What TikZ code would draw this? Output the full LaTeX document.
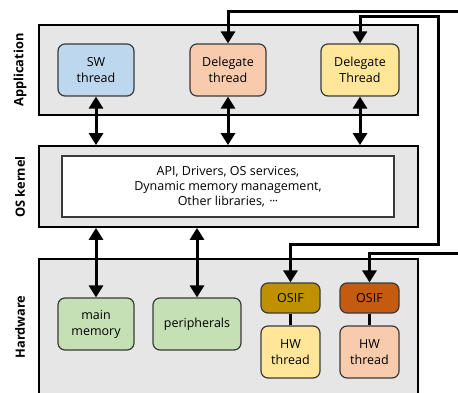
\documentclass[tikz,border=0pt]{standalone}
\usepackage{fontspec}
\setmainfont{Open Sans}
\usetikzlibrary{arrows.meta}

\definecolor{layergray}{HTML}{E7E6E6}
\definecolor{blockline}{HTML}{3A3A3A}
\definecolor{swblue}{HTML}{BDD7EE}
\definecolor{peach}{HTML}{F8CBAD}
\definecolor{sand}{HTML}{FFE699}
\definecolor{mint}{HTML}{C5E0B4}
\definecolor{osifgold}{HTML}{BF9000}
\definecolor{osifrust}{HTML}{C55A11}

\newcommand{\middots}{\kern1pt·\kern-0.5pt·\kern-0.5pt·}

\begin{document}
\begin{tikzpicture}[x=1pt,y=-1pt,
  layer/.style={draw=black, line width=1.8pt, fill=layergray, inner sep=0pt},
  block/.style={draw=blockline, line width=1.2pt, rounded corners=7pt,
    align=center, inner sep=0pt, font=\fontsize{12.5}{16}\selectfont},
  layerlabel/.style={rotate=90, font=\fontsize{12.8}{15}\selectfont\bfseries},
  link/.style={line width=3pt,
    {Triangle[width=14pt,length=12pt]}-{Triangle[width=14pt,length=12pt]}},
  tie/.style={draw=black, line width=2.5pt}]

\useasboundingbox (0,0) rectangle (458,392);
\clip (0,0) rectangle (458,392);

% layers
\node[layer, minimum width=379pt, minimum height=90pt] (app) at (228.5,70) {};
\node[layer, minimum width=379pt, minimum height=81pt] (os) at (228.5,186.5) {};
\node[layer, minimum width=379pt, minimum height=150pt] (hw) at (228.5,334) {};

\node[layerlabel] (lapp) at (20,70) {Application};
\node[layerlabel] (los) at (20,187) {OS kernel};
\node[layerlabel] (lhw) at (20,327) {Hardware};

% kernel services
\node[draw=blockline, line width=1.3pt, fill=white, minimum width=332pt,
  minimum height=61pt, align=center, inner sep=0pt,
  font=\fontsize{12.5}{14.8}\selectfont] (svc) at (228,186.5)
  {API, Drivers, OS services,\\Dynamic memory management,\\Other libraries, \middots};

% application threads
\node[block, fill=swblue, minimum width=76pt, minimum height=52pt] (sw) at (96,70) {SW\\thread};
\node[block, fill=peach, minimum width=76pt, minimum height=52pt] (dor) at (228,70) {Delegate\\thread};
\node[block, fill=sand, minimum width=78pt, minimum height=52pt] (dye) at (360,70) {Delegate\\Thread};

% hardware blocks
\node[block, fill=mint, minimum width=76pt, minimum height=52pt] (mem) at (96,324) {main\\memory};
\node[block, fill=mint, minimum width=88pt, minimum height=52pt] (per) at (197,324) {peripherals};
\node[block, fill=osifgold, minimum width=59pt, minimum height=30pt] (osif1) at (290.5,298) {OSIF};
\node[block, fill=sand, minimum width=59pt, minimum height=52pt] (hw1) at (290.5,352) {HW\\thread};
\node[block, fill=osifrust, minimum width=59pt, minimum height=30pt] (osif2) at (369.5,298) {OSIF};
\node[block, fill=peach, minimum width=59pt, minimum height=52pt] (hw2) at (369.5,352) {HW\\thread};

\draw[tie] (osif1) -- (hw1);
\draw[tie] (osif2) -- (hw2);

% vertical links between layers
\draw[link] (sw.south) -- (sw.south |- os.north);
\draw[link] (dor.south) -- (dor.south |- os.north);
\draw[link] (dye.south) -- (dye.south |- os.north);
\draw[link] (mem.north |- os.south) -- (mem.north);
\draw[link] (per.north |- os.south) -- (per.north);

% delegate threads routed to their OSIF
\coordinate (r1a) at (438,16);
\coordinate (r1b) at (438,244);
\coordinate (r2a) at (475,11);
\coordinate (r2b) at (475,253);
\draw[link] (dye.north) |- (r1a) -- (r1b) -| (osif1.north);
\draw[link] (dor.north) |- (r2a) -- (r2b) -| (osif2.north);

\end{tikzpicture}
\end{document}
